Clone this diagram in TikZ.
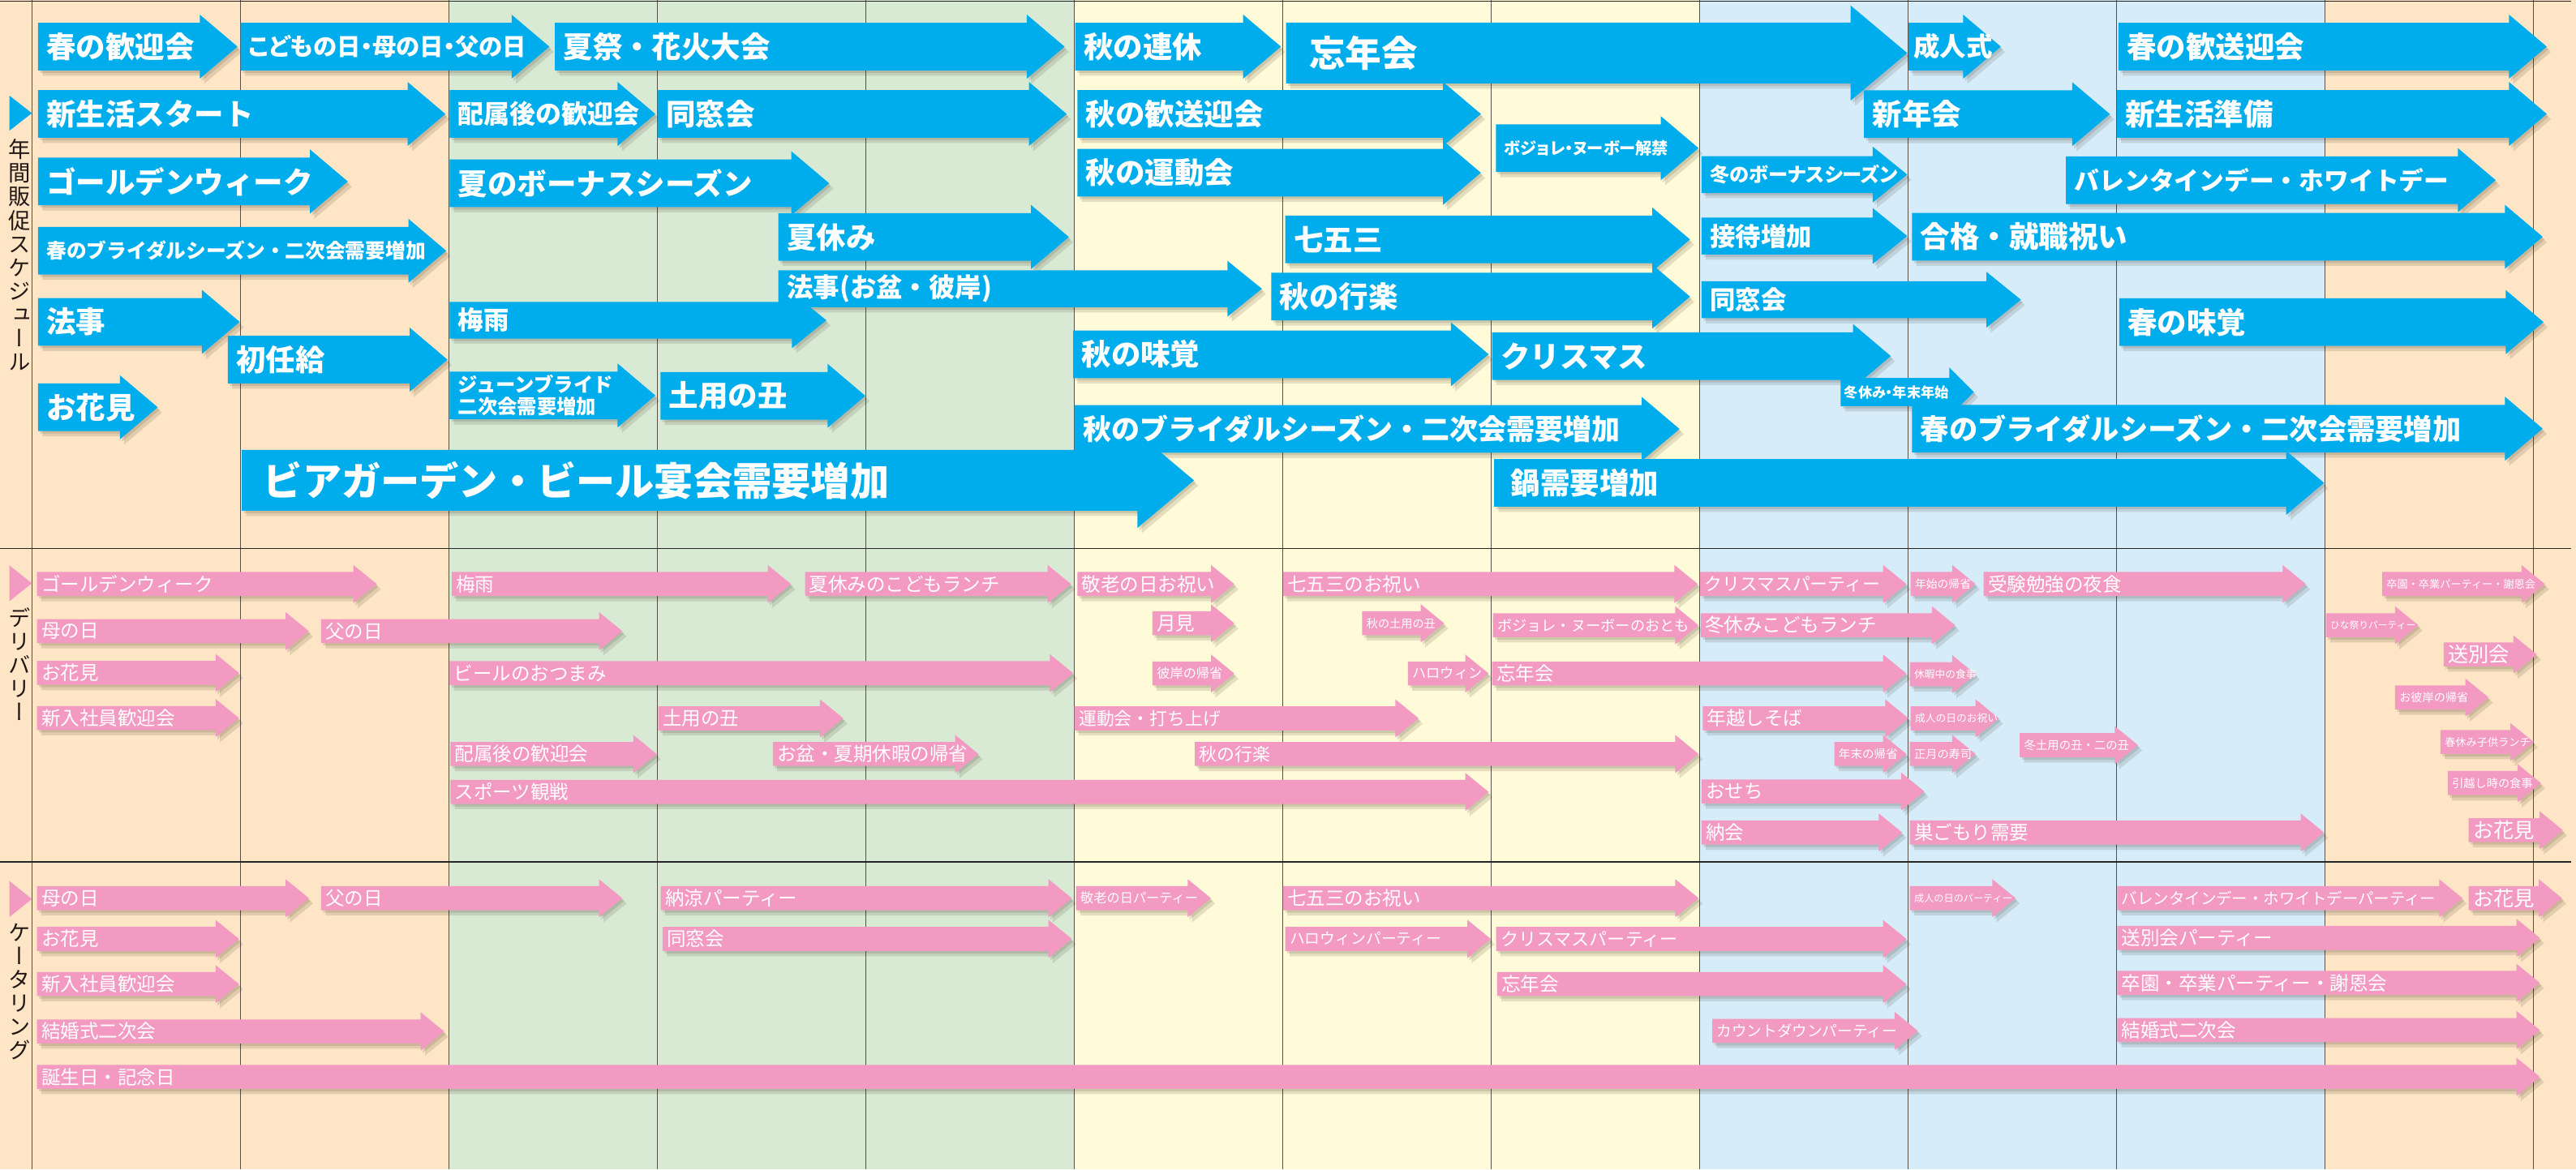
\documentclass[tikz,border=0pt]{standalone}
\usepackage{fontspec}
\usepackage{graphicx}
\usetikzlibrary{positioning}
\newfontfamily\jp{Noto Sans CJK JP}
\newfontfamily\jpp[RawFeature=+palt]{Noto Sans CJK JP}
\newfontfamily\jpv[RawFeature=+vert]{Noto Sans CJK JP}
\definecolor{peachbg}{HTML}{FDE5C5}
\definecolor{greenbg}{HTML}{D9EAD4}
\definecolor{yellowbg}{HTML}{FFFAD7}
\definecolor{bluebg}{HTML}{D6ECF9}
\definecolor{evblue}{HTML}{00ADEC}
\definecolor{evpink}{HTML}{F39AC2}
\definecolor{gridgray}{HTML}{5A5048}
\definecolor{labtext}{HTML}{231815}
\pgfdeclarelayer{bg}
\pgfdeclarelayer{shad}
\pgfsetlayers{bg,shad,main}
\tikzset{
  topsz/.code={\def\bh{14.5}\def\hh{19.5}\def\hl{23}\def\tpad{5}},
  smallsz/.code={\def\bh{11.2}\def\hh{17}\def\hl{21}\def\tpad{5}},
  bigsz/.code={\def\bh{18.5}\def\hh{29}\def\hl{34.5}\def\tpad{13}},
  tinysz/.code={\def\bh{8.6}\def\hh{15}\def\hl{15}\def\tpad{2}},
  pinksz/.code={\def\bh{7.3}\def\hh{11.6}\def\hl{14.2}\def\tpad{2.5}},
  textpad/.code={\def\tpad{#1}},
  arshadow/.style={fill=black!80!brown, fill opacity=0.12},
  evlab/.style={anchor=west, inner sep=0pt, text=white, align=left},
  vlabel/.style={anchor=north, inner sep=0pt, align=center, text=labtext,
    font=\jpv\fontsize{13.5}{14.35}\selectfont},
  gridline/.style={draw=gridgray, line width=0.7pt},
  hline/.style={draw=black!85, line width=0.7pt}
}
\newcommand{\evarrow}[8]{%
  \begin{scope}[#1]
    \begin{pgfonlayer}{shad}
      \fill[arshadow, shift={(1.2,1.5)}] (#4,#6-\bh) -- ({#5-\hl},#6-\bh) -- ({#5-\hl},#6-\hh) -- (#5,#6) -- ({#5-\hl},#6+\hh) -- ({#5-\hl},#6+\bh) -- (#4,#6+\bh) -- cycle;
      \fill[arshadow, shift={(2.6,3.2)}] (#4,#6-\bh) -- ({#5-\hl},#6-\bh) -- ({#5-\hl},#6-\hh) -- (#5,#6) -- ({#5-\hl},#6+\hh) -- ({#5-\hl},#6+\bh) -- (#4,#6+\bh) -- cycle;
    \end{pgfonlayer}
    \fill[#2] (#4,#6-\bh) -- ({#5-\hl},#6-\bh) -- ({#5-\hl},#6-\hh) -- (#5,#6) -- ({#5-\hl},#6+\hh) -- ({#5-\hl},#6+\bh) -- (#4,#6+\bh) -- cycle;
    \node[evlab, font={#7}] (#3) at ({#4+\tpad},#6) {#8};
  \end{scope}}
\newcommand{\toparw}[7][]{\evarrow{topsz,#1}{evblue}{#2}{#3}{#4}{#5}{\jp\bfseries\fontsize{#6}{#6}\selectfont}{#7}}
\newcommand{\pinkarw}[7][]{\evarrow{pinksz,#1}{evpink}{#2}{#3}{#4}{#5}{\jp\fontsize{#6}{#6}\selectfont}{#7}}
\begin{document}
\begin{tikzpicture}[x=1pt,y=-1pt]
  \useasboundingbox (0,0) rectangle (1568,712);
  \begin{pgfonlayer}{bg}
    \fill[peachbg] (0,0) rectangle (273.2,712);
    \fill[greenbg] (273.2,0) rectangle (653.9,712);
    \fill[yellowbg] (653.9,0) rectangle (1034.6,712);
    \fill[bluebg] (1034.6,0) rectangle (1415.3,712);
    \fill[peachbg] (1415.3,0) rectangle (1568,712);
    \foreach \k in {0,...,12}
      \draw[gridline] ({19.4+126.9*\k},0) -- ({19.4+126.9*\k},712);
    \draw[hline] (0,0.6) -- (1565,0.6);
    \draw[hline] (0,334) -- (1565,334);
    \draw[hline] (0,524.8) -- (1565,524.8);
  \end{pgfonlayer}

  \fill[evblue] (5.7,58.2) -- (19.4,68.9) -- (5.7,79.6) -- cycle;
  \node[vlabel] (schedlab) at (11.8,84.6) {年\\間\\販\\促\\ス\\ケ\\ジ\\ュ\\ー\\ル};
  \fill[evpink] (5.7,344.2) -- (19.4,355.2) -- (5.7,366.1) -- cycle;
  \node[vlabel] (delivlab) at (11.8,369.7) {デ\\リ\\バ\\リ\\ー};
  \fill[evpink] (5.7,536.4) -- (19.4,547.4) -- (5.7,558.4) -- cycle;
  \node[vlabel] (caterlab) at (11.8,562) {ケ\\ー\\タ\\リ\\ン\\グ};

  \toparw{t1}{23.2}{144.6}{28.4}{18}{春の歓迎会}
  \toparw{t2}{146.4}{334.4}{28.4}{14.5}{\jpp こどもの日・母の日・父の日}
  \toparw{t3}{337.7}{648}{28.4}{18}{夏祭・花火大会}
  \toparw{t4}{23.2}{271.1}{69.4}{18}{新生活スタート}
  \toparw{t5}{273.7}{398.9}{69.4}{15.8}{配属後の歓迎会}
  \toparw{t6}{400.2}{649.3}{69.4}{18}{同窓会}
  \toparw{t7}{23.2}{211.7}{110.5}{18}{ゴールデンウィーク}
  \toparw{t8}{273.7}{504.7}{111.6}{18}{夏のボーナスシーズン}
  \toparw{t9}{23.2}{271.6}{152.7}{12.2}{春のブライダルシーズン・二次会需要増加}
  \toparw{t10}{23.2}{145.9}{196}{18}{法事}
  \toparw{t11}{138.7}{272.4}{219}{18}{初任給}
  \toparw{t12}{23.2}{96}{248}{18}{お花見}
  \toparw[smallsz]{t13}{273.7}{503}{195}{15.5}{梅雨}
  \toparw{t14}{273.7}{398.9}{240.8}{12}{ジューンブライド\\[1.3pt]二次会需要増加}
  \toparw{t15}{402}{526.7}{241}{18}{土用の丑}
  \toparw[bigsz]{t16}{147.2}{726.8}{292.5}{23.8}{ビアガーデン・ビール宴会需要増加}
  \toparw{t17}{473.8}{650.6}{144.3}{18}{夏休み}
  \toparw[smallsz]{t18}{473.8}{768.1}{175.8}{16}{法事(お盆・彼岸)}
  \toparw{t19}{654.5}{779.7}{28.4}{18}{秋の連休}
  \toparw{t20}{655.8}{901.4}{69.4}{18}{秋の歓送迎会}
  \toparw{t21}{655.8}{901.4}{105.2}{18}{秋の運動会}
  \toparw[bigsz,textpad=14]{t22}{782.8}{1160.9}{32.3}{22}{忘年会}
  \toparw{t23}{782.3}{1028.7}{145.8}{18}{七五三}
  \toparw{t24}{773.8}{1028.7}{180.6}{18}{秋の行楽}
  \toparw{t25}{653.2}{906.1}{215.7}{18}{秋の味覚}
  \toparw{t26}{654}{1022.3}{261.2}{17.3}{秋のブライダルシーズン・二次会需要増加}
  \toparw{t27}{910.5}{1033.9}{90.2}{10}{\jpp ボジョレ・ヌーボー解禁}
  \toparw{t28}{908.2}{1150.9}{216.8}{18}{クリスマス}
  \toparw[textpad=10]{t29}{909.5}{1414.6}{294}{18}{鍋需要増加}
  \toparw[smallsz]{t30}{1035.7}{1160.9}{106.3}{12}{\jpp 冬のボーナスシーズン}
  \toparw[smallsz]{t31}{1035.7}{1160.9}{143.7}{15.5}{接待増加}
  \toparw[smallsz]{t32}{1035.7}{1230.1}{182.5}{15.5}{同窓会}
  \toparw[tinysz]{t33}{1120.4}{1201.5}{238.7}{8.5}{\jpp 冬休み・年末年始}
  \toparw[textpad=3]{t34}{1161.7}{1217.9}{28.4}{16}{成人式}
  \toparw{t35}{1134.6}{1284.3}{69.5}{18}{新年会}
  \toparw{t36}{1163.8}{1547.7}{144.2}{18}{合格・就職祝い}
  \toparw{t37}{1163.8}{1547.7}{261}{17.4}{春のブライダルシーズン・二次会需要増加}
  \toparw{t38}{1289.5}{1550.2}{28.4}{18}{春の歓送迎会}
  \toparw{t39}{1288.5}{1550.2}{69.4}{18}{新生活準備}
  \toparw{t40}{1257.5}{1519.1}{109.7}{15.2}{バレンタインデー・ホワイトデー}
  \toparw{t41}{1290}{1548.2}{196.1}{18}{春の味覚}

  \pinkarw{d1}{22.5}{229.3}{355.6}{11.6}{ゴールデンウィーク}
  \pinkarw{d2}{22.5}{188}{384.3}{11.6}{母の日}
  \pinkarw{d3}{195.5}{378.8}{384.3}{11.6}{父の日}
  \pinkarw{d4}{22.5}{145.4}{409.7}{11.6}{お花見}
  \pinkarw{d5}{22.5}{145.4}{437.2}{11.6}{新入社員歓迎会}
  \pinkarw{d6}{275}{481.5}{355.6}{11.6}{梅雨}
  \pinkarw{d7}{273.7}{653.2}{409.9}{11.6}{ビールのおつまみ}
  \pinkarw{d8}{274.2}{399.7}{459.1}{11.6}{配属後の歓迎会}
  \pinkarw{d9}{274.2}{906.1}{482.2}{11.6}{スポーツ観戦}
  \pinkarw{d10}{490}{651.9}{355.6}{11.6}{夏休みのこどもランチ}
  \pinkarw{d11}{400.7}{513.3}{437.4}{11.6}{土用の丑}
  \pinkarw{d12}{470.4}{595.6}{459.1}{11.6}{お盆・夏期休暇の帰省}
  \pinkarw{d13}{655.8}{751.3}{355.6}{11.6}{敬老の日お祝い}
  \pinkarw{d14}{701.5}{751.3}{379.5}{11.6}{月見}
  \pinkarw{d15}{701.5}{751.3}{410.1}{8}{彼岸の帰省}
  \pinkarw{d16}{654}{863.5}{437.4}{10.8}{運動会・打ち上げ}
  \pinkarw{d17}{727.3}{1033.9}{459.1}{10.8}{秋の行楽}
  \pinkarw{d18}{781}{1033.4}{355.6}{11.6}{七五三のお祝い}
  \pinkarw{d19}{829.1}{879}{379.5}{7}{秋の土用の丑}
  \pinkarw{d20}{857}{906.1}{410.1}{8.5}{ハロウィン}
  \pinkarw{d21}{908.7}{1033.9}{380.7}{9}{ボジョレ・ヌーボーのおとも}
  \pinkarw{d22}{908.2}{1160.4}{410.1}{11.6}{忘年会}
  \pinkarw{d23}{1034.7}{1160.4}{355.6}{10.8}{クリスマスパーティー}
  \pinkarw{d24}{1035.2}{1190.1}{380.7}{11.6}{冬休みこどもランチ}
  \pinkarw{d25}{1036.5}{1161.7}{437.4}{11.6}{年越しそば}
  \pinkarw{d26}{1116.5}{1160.4}{459.1}{7.2}{年末の帰省}
  \pinkarw{d27}{1035.7}{1171.3}{481.9}{11.6}{おせち}
  \pinkarw{d28}{1035.7}{1157.8}{506.9}{11.6}{納会}
  \pinkarw{d29}{1163}{1202.5}{355.6}{6.8}{年始の帰省}
  \pinkarw{d30}{1162.5}{1202.5}{410.5}{6.3}{休暇中の食事}
  \pinkarw{d31}{1163}{1216.7}{437.4}{6.3}{成人の日のお祝い}
  \pinkarw{d32}{1162.5}{1202.5}{459.1}{7}{正月の寿司}
  \pinkarw{d33}{1162.5}{1414.6}{506.9}{11.6}{巣ごもり需要}
  \pinkarw{d34}{1207.4}{1403.6}{355.6}{11.6}{受験勉強の夜食}
  \pinkarw{d35}{1229.4}{1301.4}{453.7}{7.1}{冬土用の丑・二の丑}
  \pinkarw{d36}{1450}{1549}{355.6}{6.5}{卒園・卒業パーティー・謝恩会}
  \pinkarw{d37}{1415.8}{1472}{380.7}{5.8}{ひな祭りパーティー}
  \pinkarw{d38}{1487.4}{1544.1}{398.5}{12.5}{送別会}
  \pinkarw{d39}{1457.8}{1514.8}{424.7}{7}{お彼岸の帰省}
  \pinkarw{d40}{1485.5}{1542.2}{451.8}{6.5}{春休み子供ランチ}
  \pinkarw{d41}{1489.9}{1546.6}{476.8}{7}{引越し時の食事}
  \pinkarw{d42}{1502.6}{1560}{505.5}{12.5}{お花見}

  \pinkarw{c1}{22.5}{188}{546.9}{11.6}{母の日}
  \pinkarw{c2}{195.5}{378.8}{546.9}{11.6}{父の日}
  \pinkarw{c3}{22.5}{145.4}{571.7}{11.6}{お花見}
  \pinkarw{c4}{22.5}{145.4}{599.2}{11.6}{新入社員歓迎会}
  \pinkarw{c5}{22.5}{270.3}{628}{11.6}{結婚式二次会}
  \pinkarw{c6}{22.5}{1546}{655.7}{11.6}{誕生日・記念日}
  \pinkarw{c7}{402.2}{652.4}{546.9}{11.6}{納涼パーティー}
  \pinkarw{c8}{403.3}{652.4}{571.7}{11.6}{同窓会}
  \pinkarw{c9}{655}{737.1}{546.9}{8}{敬老の日パーティー}
  \pinkarw{c10}{781}{1033.9}{546.9}{11.6}{七五三のお祝い}
  \pinkarw{c11}{782.3}{907.4}{571.7}{9.3}{ハロウィンパーティー}
  \pinkarw{c12}{910.7}{1160.4}{571.7}{10.9}{クリスマスパーティー}
  \pinkarw{c13}{911.3}{1160.4}{599.2}{11.6}{忘年会}
  \pinkarw{c14}{1042.2}{1167.4}{627.7}{9.2}{カウントダウンパーティー}
  \pinkarw{c15}{1162.5}{1226.9}{546.9}{6}{成人の日のパーティー}
  \pinkarw{c16}{1288.7}{1498.9}{546.9}{9.6}{バレンタインデー・ホワイトデーパーティー}
  \pinkarw{c17}{1502.6}{1559.5}{546.9}{12.5}{お花見}
  \pinkarw{c18}{1288.7}{1546}{571.1}{11.6}{送別会パーティー}
  \pinkarw{c19}{1288.7}{1546}{598.5}{11.6}{卒園・卒業パーティー・謝恩会}
  \pinkarw{c20}{1288.7}{1546}{627.2}{11.6}{結婚式二次会}
\end{tikzpicture}
\end{document}
